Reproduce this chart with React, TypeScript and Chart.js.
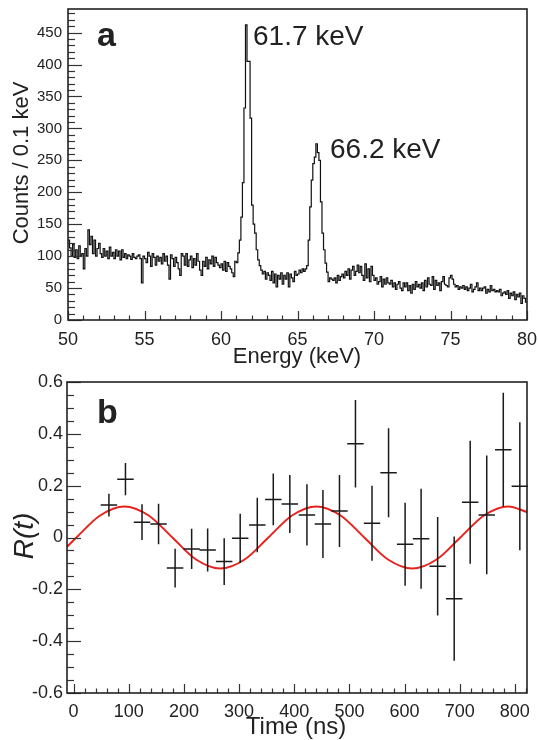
import { useEffect, useRef } from "react";
import { Chart, registerables } from "chart.js";
Chart.register(...registerables);

const FONT = '"Liberation Sans", Arial, Helvetica, sans-serif';
const INK = "#222";

// ---------- Panel a: counts per 0.1 keV bin ----------
const binStart = 50;
const binWidth = 0.1;
const counts50to55 = [
  125, 113, 100, 118, 98, 110, 96, 116, 100, 104,
  80, 112, 100, 141, 118, 131, 104, 125, 100, 112,
  120, 104, 98, 112, 100, 108, 96, 114, 100, 106,
  96, 110, 100, 108, 94, 110, 98, 104, 96, 102,
  100, 95, 104, 98, 96, 100, 102, 96, 58, 100,
];
const counts55to60 = [
  96, 90, 106, 100, 84, 104, 98, 86, 100, 92,
  98, 88, 104, 92, 100, 86, 64, 102, 96, 84,
  98, 90, 80, 70, 104, 100, 86, 104, 84, 94,
  100, 82, 96, 86, 104, 92, 78, 70, 92, 84,
  98, 80, 94, 88, 100, 84, 98, 90, 86, 82,
];
const counts60to65 = [
  88, 78, 92, 76, 90, 84, 80, 74, 68, 92,
  90, 105, 125, 161, 215, 332, 462, 405, 405, 316,
  180, 150, 136, 110, 94, 85, 78, 72, 76, 64,
  74, 70, 62, 76, 58, 72, 52, 70, 64, 74,
  56, 70, 64, 74, 52, 72, 66, 60, 76, 70,
];
const counts65to70 = [
  72, 78, 74, 80, 76, 80, 85, 125, 177, 219,
  245, 255, 276, 262, 250, 185, 136, 110, 89, 75,
  60, 66, 64, 62, 66, 58, 70, 62, 68, 72,
  66, 76, 70, 80, 64, 78, 84, 70, 76, 86,
  74, 84, 70, 62, 88, 66, 80, 60, 84, 70,
];
const counts70to75 = [
  62, 66, 56, 60, 68, 52, 64, 56, 66, 58,
  56, 62, 52, 58, 48, 56, 60, 50, 46, 58,
  52, 58, 46, 54, 42, 56, 48, 60, 52, 56,
  50, 58, 46, 62, 52, 66, 56, 54, 68, 48,
  62, 54, 58, 46, 60, 68, 56, 54, 52, 66,
];
const counts75to80 = [
  70, 64, 56, 52, 54, 48, 52, 50, 54, 48,
  52, 46, 50, 56, 44, 48, 52, 58, 46, 50,
  46, 50, 52, 42, 48, 44, 54, 46, 48, 44,
  46, 44, 48, 38, 42, 44, 40, 46, 34, 42,
  38, 44, 32, 40, 36, 42, 26, 38, 34, 28,
];
const energyTicks = [50, 55, 60, 65, 70, 75, 80];
const countTicks = [0, 50, 100, 150, 200, 250, 300, 350, 400, 450];
const peakLabels = ["61.7 keV", "66.2 keV"];

// ---------- Panel b: R(t) ----------
const timeNs = [64, 94, 124, 154, 184, 214, 243, 273, 302, 333, 362, 392, 423, 452, 482, 511, 541, 571, 601, 630, 660, 690, 719, 749, 779, 809];
const ratio = [0.125, 0.225, 0.059, 0.052, -0.118, -0.044, -0.048, -0.093, -0.003, 0.048, 0.147, 0.129, 0.087, 0.052, 0.102, 0.362, 0.055, 0.25, -0.026, -0.005, -0.111, -0.236, 0.136, 0.087, 0.339, 0.198];
const ratioErr = [0.044, 0.062, 0.069, 0.078, 0.075, 0.078, 0.083, 0.09, 0.095, 0.105, 0.1, 0.112, 0.118, 0.131, 0.139, 0.169, 0.145, 0.172, 0.16, 0.193, 0.19, 0.24, 0.237, 0.229, 0.22, 0.247];
const timeHalfBin = 14.9;
const fitTimeNs = [-12, 5, 48, 92, 136, 179, 222, 266, 310, 353, 396, 440, 484, 527, 570, 614, 658, 701, 744, 788, 822];
const fitRatio = [-0.036, 0, 0.085, 0.12, 0.085, 0, -0.085, -0.12, -0.085, 0, 0.085, 0.12, 0.085, 0, -0.085, -0.12, -0.085, 0, 0.085, 0.12, 0.098];
const timeTicks = [0, 100, 200, 300, 400, 500, 600, 700, 800];
const ratioTicks = [-0.6, -0.4, -0.2, 0, 0.2, 0.4, 0.6];

function range(a: number, b: number, step: number) {
  const out: number[] = [];
  for (let v = a; v <= b + 1e-9; v += step) out.push(Math.round(v * 1000) / 1000);
  return out;
}

function noPad(s: any) {
  s.paddingLeft = 0;
  s.paddingRight = 0;
  s.paddingTop = 0;
  s.paddingBottom = 0;
}

const rootFrame = {
  id: "rootFrame",
  afterDraw(chart: any, _args: any, o: any) {
    const { ctx, chartArea: a, scales } = chart;
    ctx.save();
    if (o.errors) {
      ctx.strokeStyle = "#1a1a1a";
      ctx.lineWidth = 1.5;
      o.errors.x.forEach((t: number, i: number) => {
        const y = o.errors.y[i];
        const e = o.errors.e[i];
        const px = scales.x.getPixelForValue(t);
        const py = scales.y.getPixelForValue(y);
        ctx.beginPath();
        ctx.moveTo(px, scales.y.getPixelForValue(y + e));
        ctx.lineTo(px, scales.y.getPixelForValue(y - e));
        ctx.moveTo(scales.x.getPixelForValue(t - o.errors.hx), py);
        ctx.lineTo(scales.x.getPixelForValue(t + o.errors.hx), py);
        ctx.stroke();
      });
    }
    ctx.strokeStyle = "#333";
    ctx.lineWidth = 1.2;
    const tick = (vals: number[], majors: number[], axis: string, lenMaj: number, lenMin: number) => {
      const s = scales[axis];
      vals.forEach((v) => {
        const isMaj = majors.some((m) => Math.abs(m - v) < 1e-6);
        const L = isMaj ? lenMaj : lenMin;
        const p = Math.round(s.getPixelForValue(v)) + 0.5;
        ctx.beginPath();
        if (axis === "x") {
          ctx.moveTo(p, a.bottom);
          ctx.lineTo(p, a.bottom - L);
        } else {
          ctx.moveTo(a.left, p);
          ctx.lineTo(a.left + L, p);
        }
        ctx.stroke();
      });
    };
    tick(o.xMinor, o.xMajor, "x", 9, 4.5);
    tick(o.yMinor, o.yMajor, "y", 14, 7);
    ctx.strokeStyle = "#222";
    ctx.lineWidth = 1.6;
    ctx.strokeRect(a.left, a.top, a.right - a.left, a.bottom - a.top);
    ctx.fillStyle = INK;
    (o.texts || []).forEach((t: any) => {
      ctx.save();
      ctx.font = t.font;
      ctx.textAlign = t.align || "left";
      ctx.textBaseline = t.baseline || "alphabetic";
      ctx.translate(t.x, t.y);
      if (t.rot) ctx.rotate(t.rot);
      ctx.fillText(t.text, 0, 0);
      ctx.restore();
    });
    ctx.restore();
  },
};

function useChart(ref: any, makeConfig: () => any) {
  useEffect(() => {
    const chart = new Chart(ref.current, makeConfig());
    return () => chart.destroy();
  }, []);
}

function configA() {
  const counts = [...counts50to55, ...counts55to60, ...counts60to65, ...counts65to70, ...counts70to75, ...counts75to80];
  const pts: { x: number; y: number }[] = [{ x: binStart, y: counts[0] }];
  counts.forEach((c, i) => pts.push({ x: binStart + (i + 0.5) * binWidth, y: c }));
  pts.push({ x: binStart + counts.length * binWidth, y: counts[counts.length - 1] });
  return {
    type: "line",
    data: {
      datasets: [
        { data: pts, stepped: "middle", borderColor: "#111", borderWidth: 1.2, pointRadius: 0, fill: false },
      ],
    },
    options: {
      animation: false,
      responsive: false,
      layout: { padding: { left: 8, right: 11, top: 9, bottom: 0 } },
      plugins: {
        legend: { display: false },
        tooltip: { enabled: false },
        rootFrame: {
          xMajor: energyTicks,
          xMinor: range(50, 80, 1),
          yMajor: countTicks,
          yMinor: range(0, 480, 10),
          texts: [
            { text: "a", x: 97, y: 46, font: `bold 34px ${FONT}` },
            { text: peakLabels[0], x: 253, y: 45, font: `28px ${FONT}` },
            { text: peakLabels[1], x: 330, y: 158, font: `28px ${FONT}` },
            { text: "Energy (keV)", x: 297, y: 363, align: "center", font: `22px ${FONT}` },
            { text: "Counts / 0.1 keV", x: 22, y: 163, align: "center", baseline: "middle", rot: -Math.PI / 2, font: `22px ${FONT}` },
          ],
        },
      },
      scales: {
        x: {
          type: "linear",
          min: 50,
          max: 80,
          afterFit: (s: any) => { s.height = 50; noPad(s); },
          afterBuildTicks: (s: any) => { s.ticks = energyTicks.map((v) => ({ value: v })); },
          grid: { display: false, drawTicks: false },
          border: { display: false },
          ticks: { padding: 9, color: INK, font: { family: FONT, size: 18 }, maxRotation: 0, callback: (v: any) => String(v) },
        },
        y: {
          type: "linear",
          min: 0,
          max: 487,
          afterFit: (s: any) => { s.width = 60; noPad(s); },
          afterBuildTicks: (s: any) => { s.ticks = countTicks.map((v) => ({ value: v })); },
          grid: { display: false, drawTicks: false },
          border: { display: false },
          ticks: { padding: 6, color: INK, font: { family: FONT, size: 15 }, callback: (v: any) => String(v) },
        },
      },
    },
    plugins: [rootFrame],
  };
}

function configB() {
  return {
    type: "line",
    data: {
      datasets: [
        {
          data: fitTimeNs.map((t, i) => ({ x: t, y: fitRatio[i] })),
          borderColor: "#e8231d",
          borderWidth: 2,
          pointRadius: 0,
          cubicInterpolationMode: "monotone",
          fill: false,
        },
        {
          data: timeNs.map((t, i) => ({ x: t, y: ratio[i] })),
          showLine: false,
          pointRadius: 0,
        },
      ],
    },
    options: {
      animation: false,
      responsive: false,
      layout: { padding: { left: 7, right: 11, top: 12, bottom: 0 } },
      plugins: {
        legend: { display: false },
        tooltip: { enabled: false },
        rootFrame: {
          errors: { x: timeNs, y: ratio, e: ratioErr, hx: timeHalfBin },
          xMajor: timeTicks,
          xMinor: range(0, 820, 20),
          yMajor: ratioTicks,
          yMinor: range(-0.6, 0.6, 0.05),
          texts: [
            { text: "b", x: 97, y: 53, font: `bold 34px ${FONT}` },
            { text: "Time (ns)", x: 296, y: 364, align: "center", font: `24px ${FONT}` },
            { text: "R(t)", x: 25, y: 166, align: "center", baseline: "middle", rot: -Math.PI / 2, font: `italic 28px ${FONT}` },
          ],
        },
      },
      scales: {
        x: {
          type: "linear",
          min: -12,
          max: 822,
          afterFit: (s: any) => { s.height = 47; noPad(s); },
          afterBuildTicks: (s: any) => { s.ticks = timeTicks.map((v) => ({ value: v })); },
          grid: { display: false, drawTicks: false },
          border: { display: false },
          ticks: { padding: 8, color: INK, font: { family: FONT, size: 18 }, maxRotation: 0, callback: (v: any) => String(v) },
        },
        y: {
          type: "linear",
          min: -0.6,
          max: 0.6,
          afterFit: (s: any) => { s.width = 60; noPad(s); },
          afterBuildTicks: (s: any) => { s.ticks = ratioTicks.map((v) => ({ value: v })); },
          grid: { display: false, drawTicks: false },
          border: { display: false },
          ticks: { padding: 4, color: INK, font: { family: FONT, size: 18 }, callback: (v: any) => (Math.abs(v) < 1e-9 ? "0" : String(Math.round(v * 10) / 10)) },
        },
      },
    },
    plugins: [rootFrame],
  };
}

export default function App() {
  const refA = useRef<HTMLCanvasElement>(null);
  const refB = useRef<HTMLCanvasElement>(null);
  useChart(refA, configA);
  useChart(refB, configB);
  return (
    <div style={{ position: "fixed", left: 0, top: 0, width: 538, height: 740, background: "#fff" }}>
      <canvas ref={refA} width={538} height={370} style={{ position: "absolute", left: 0, top: 0, width: 538, height: 370 }} />
      <canvas ref={refB} width={538} height={370} style={{ position: "absolute", left: 0, top: 370, width: 538, height: 370 }} />
    </div>
  );
}
